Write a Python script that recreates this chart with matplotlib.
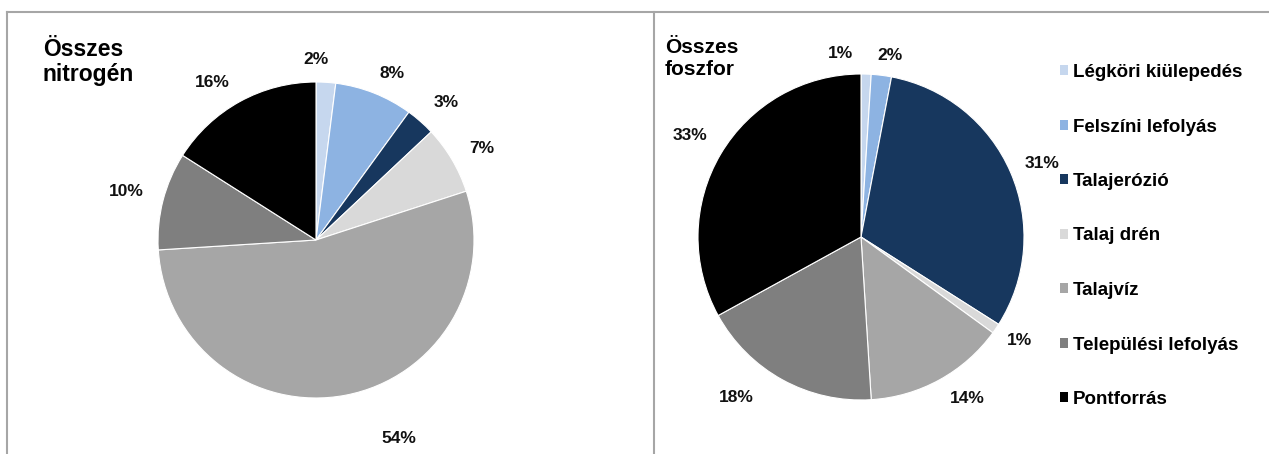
import numpy as np
import matplotlib
matplotlib.use("Agg")
import matplotlib.pyplot as plt
from matplotlib.patches import Patch
from matplotlib.lines import Line2D

plt.rcParams['font.family'] = ['Liberation Sans', 'DejaVu Sans']

# Források (jelmagyarázat sorrendje = szeletek sorrendje)
categories = ["Légköri kiülepedés", "Felszíni lefolyás", "Talajerózió",
              "Talaj drén", "Talajvíz", "Települési lefolyás", "Pontforrás"]
colors = ["#C6D7EE", "#8DB3E2", "#17375E", "#D9D9D9", "#A6A6A6", "#7F7F7F", "#000000"]

# Összes nitrogén, %
nitrogen = [2, 8, 3, 7, 54, 10, 16]
# Összes foszfor, %
foszfor = [1, 2, 31, 1, 14, 18, 33]

W, H = 1269, 454
fig = plt.figure(figsize=(W / 100, H / 100), dpi=100)
ax = fig.add_axes([0, 0, 1, 1])


def px(x, y):
    # képpont-koordináta -> adat (y lefelé nő)
    return x, H - y


def draw_pie(values, cx, cy, r, lab_pos):
    wedges, _ = ax.pie(values, colors=colors, startangle=90, counterclock=False,
                       center=px(cx, cy), radius=r, frame=True,
                       wedgeprops=dict(edgecolor="white", linewidth=0.8))
    c = np.array(px(cx, cy))
    for w, v, (fac, off) in zip(wedges, values, lab_pos):
        ang = np.deg2rad((w.theta1 + w.theta2) / 2 - off)
        x, y = c + r * fac * np.array([np.cos(ang), np.sin(ang)])
        ax.text(x, y, f"{v}%", ha="center", va="center",
                fontsize=12.5, fontweight="bold", color="#111111")


# címke-elhelyezés: (sugár-szorzó, szögeltolás fokban, óramutató irányában)
n_pos = [(1.14, -3.6), (1.16, 2.9), (1.2, 2.0), (1.2, 1.6),
         (1.36, -12.0), (1.24, 0.0), (1.19, -4.5)]
p_pos = [(1.13, -8.3), (1.13, 1.8), (1.2, 1.3), (1.16, -1.0),
         (1.19, -4.6), (1.25, 9.0), (1.22, 0.0)]

draw_pie(nitrogen, 316, 240, 158, n_pos)
draw_pie(foszfor, 861, 237, 163, p_pos)

ax.set_xlim(0, W)
ax.set_ylim(0, H)
ax.set_aspect("equal")
ax.axis("off")

# keret
for xs, ys in [([7, W], [12, 12]), ([7, 7], [12, H]), ([654, 654], [12, H])]:
    ax.add_line(Line2D(xs, [H - v for v in ys], color="#A6A6A6", lw=1.5))

ax.text(*px(43, 38), "Összes\nnitrogén", ha="left", va="top",
        fontsize=16.5, fontweight="bold", linespacing=1.1)
ax.text(*px(665, 38), "Összes\nfoszfor", ha="left", va="top",
        fontsize=15, fontweight="bold", linespacing=1.2)

handles = [Patch(facecolor=c, edgecolor="none") for c in colors]
leg = fig.legend(handles, categories, loc="upper left",
                 bbox_to_anchor=(1060 / W, 1 - 64 / H), frameon=False,
                 prop=dict(size=13.5, weight="bold"), handlelength=0.45,
                 handleheight=0.45, handletextpad=0.25, labelspacing=2.0,
                 borderaxespad=0, borderpad=0)

fig.savefig("out.png", dpi=100, facecolor="white")
